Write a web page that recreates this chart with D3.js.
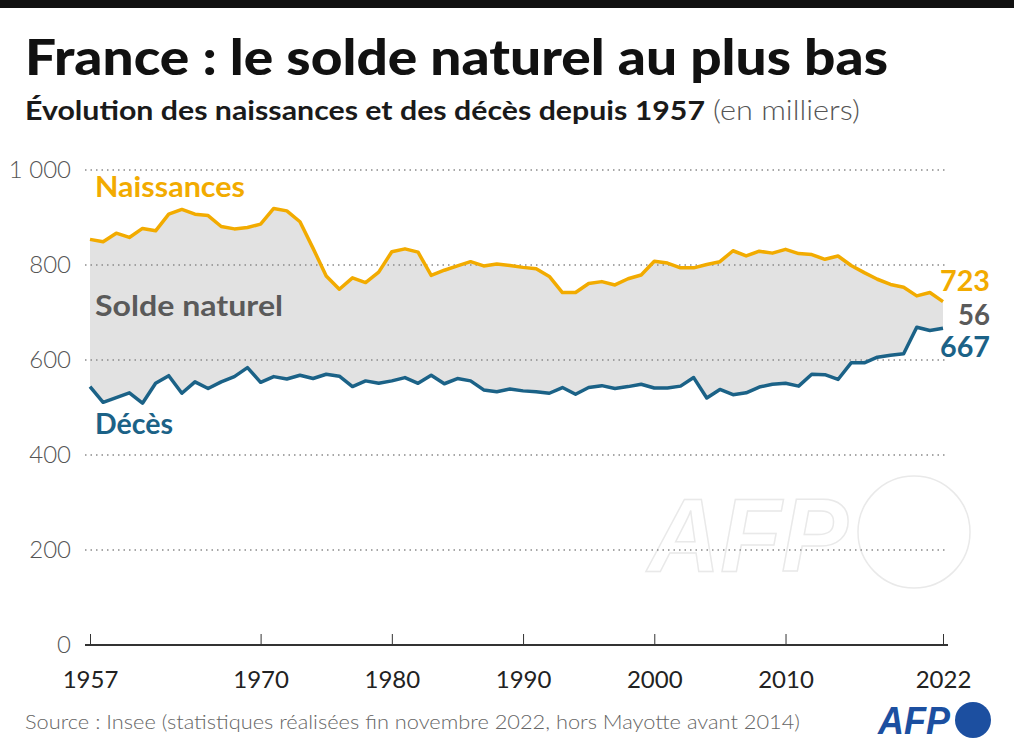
<!DOCTYPE html>
<html>
<head>
<meta charset="utf-8">
<script src="https://cdn.jsdelivr.net/npm/d3@7"></script>
<style>
  body { margin: 0; background: #fff; }
  svg { display: block; font-family: Lato, "Open Sans", sans-serif; }
</style>
</head>
<body>
<script>
'use strict';

// years 1957 -> 2022, values in thousands
const years = d3.range(1957, 2023);

const naissances = [
  854, 849, 867, 858, 877, 872, 907, 917, 907, 904,
  881, 876, 879, 886, 919, 914, 891, 835, 777, 749,
  773, 763, 785, 828, 834, 827, 778, 789, 798, 807,
  798, 802, 799, 795, 792, 776, 742, 742, 761, 765,
  758, 771, 779, 808, 804, 794, 794, 801, 807, 830,
  819, 829, 825, 833, 824, 822, 812, 819, 799, 784,
  770, 759, 753, 735, 742, 723
];

const deces = [
  544, 511, 521, 531, 509, 551, 567, 530, 554, 540,
  554, 565, 584, 553, 565, 560, 568, 561, 570, 566,
  544, 556, 551, 556, 563, 551, 568, 550, 561, 556,
  537, 533, 539, 535, 533, 530, 542, 528, 542, 546,
  540, 544, 549, 541, 541, 545, 563, 520, 538, 527,
  531, 543, 549, 551, 545, 570, 569, 559, 594, 594,
  606, 610, 613, 669, 662, 667
];

const yTicks = [0, 200, 400, 600, 800, 1000];
const yTickLabels = ["0", "200", "400", "600", "800", "1 000"];
const xTicks = [1957, 1970, 1980, 1990, 2000, 2010, 2022];

const orange = "#f2ab00";
const blue = "#1b6287";
const grey = "#5a5a5a";

const W = 1014, H = 755;
const svg = d3.select("body").append("svg")
  .attr("width", W)
  .attr("height", H);

// top black band
svg.append("rect")
  .attr("x", 0).attr("y", 0)
  .attr("width", W).attr("height", 8)
  .attr("fill", "#111");

// title + subtitle
svg.append("text")
  .attr("x", 25).attr("y", 75)
  .attr("font-size", 50)
  .attr("font-weight", 900)
  .attr("fill", "#111")
  .attr("textLength", 863)
  .attr("lengthAdjust", "spacingAndGlyphs")
  .text("France : le solde naturel au plus bas");

svg.append("text")
  .attr("x", 25).attr("y", 120)
  .attr("font-size", 27)
  .attr("font-weight", 700)
  .attr("fill", "#1a1a1a")
  .attr("textLength", 680)
  .attr("lengthAdjust", "spacingAndGlyphs")
  .text("Évolution des naissances et des décès depuis 1957");

svg.append("text")
  .attr("x", 713).attr("y", 120)
  .attr("font-size", 27)
  .attr("font-weight", 300)
  .attr("fill", "#555")
  .attr("textLength", 147)
  .attr("lengthAdjust", "spacingAndGlyphs")
  .text("(en milliers)");

// scales
const x = d3.scaleLinear().domain([1957, 2022]).range([90, 943]);
const y = d3.scaleLinear().domain([0, 1000]).range([645, 170]);

// AFP watermark (behind grid)
const wm = svg.append("g").attr("class", "watermark");
wm.append("text")
  .attr("x", 648).attr("y", 571)
  .attr("font-family", "Liberation Sans, Arial, sans-serif")
  .attr("font-size", 104)
  .attr("font-weight", 700)
  .attr("font-style", "italic")
  .attr("fill", "#fff")
  .attr("stroke", "#e9e9e9")
  .attr("stroke-width", 1.5)
  .attr("textLength", 200)
  .attr("lengthAdjust", "spacingAndGlyphs")
  .text("AFP");
wm.append("circle")
  .attr("cx", 914).attr("cy", 532).attr("r", 56)
  .attr("fill", "#fff")
  .attr("stroke", "#e9e9e9")
  .attr("stroke-width", 1.5);

// area between births and deaths
const area = d3.area()
  .x((d, i) => x(years[i]))
  .y0((d, i) => y(deces[i]))
  .y1((d) => y(d));

svg.append("path")
  .datum(naissances)
  .attr("fill", "#e2e2e2")
  .attr("d", area);

// dotted gridlines
svg.append("g")
  .selectAll("line")
  .data(yTicks.filter(d => d > 0))
  .join("line")
  .attr("x1", 85).attr("x2", 946)
  .attr("y1", d => y(d)).attr("y2", d => y(d))
  .attr("stroke", "#8a8a8a")
  .attr("stroke-width", 1.4)
  .attr("stroke-dasharray", "1.5,4");

// y axis labels
const yAxis = d3.axisLeft(y)
  .tickValues(yTicks)
  .tickSize(0)
  .tickPadding(0)
  .tickFormat((d, i) => yTickLabels[i]);

const gy = svg.append("g")
  .attr("transform", "translate(71,0)")
  .call(yAxis);
gy.select(".domain").remove();
gy.selectAll("text")
  .attr("font-family", "Lato, sans-serif")
  .attr("font-size", 24)
  .attr("font-weight", 300)
  .attr("fill", "#555");

// x axis at zero, ticks pointing up
const xAxis = d3.axisBottom(x)
  .tickValues(xTicks)
  .tickSize(-11)
  .tickPadding(26)
  .tickFormat(d3.format("d"));

const gx = svg.append("g")
  .attr("transform", "translate(0," + y(0) + ")")
  .call(xAxis);
gx.select(".domain").remove();
gx.selectAll(".tick line").attr("stroke", "#333").attr("stroke-width", 1);
gx.selectAll("text")
  .attr("font-family", "Lato, sans-serif")
  .attr("font-size", 24)
  .attr("font-weight", 400)
  .attr("fill", "#222");
gx.append("line")
  .attr("x1", 85).attr("x2", 948)
  .attr("stroke", "#333")
  .attr("stroke-width", 2);

// lines
const line = d3.line()
  .x((d, i) => x(years[i]))
  .y((d) => y(d));

svg.append("path")
  .datum(naissances)
  .attr("fill", "none")
  .attr("stroke", orange)
  .attr("stroke-width", 3.5)
  .attr("stroke-linejoin", "round")
  .attr("d", line);

svg.append("path")
  .datum(deces)
  .attr("fill", "none")
  .attr("stroke", blue)
  .attr("stroke-width", 3.5)
  .attr("stroke-linejoin", "round")
  .attr("d", line);

// series labels
function label(txt, xx, yy, color, size, len, anchor) {
  const t = svg.append("text")
    .attr("x", xx).attr("y", yy)
    .attr("font-size", size)
    .attr("font-weight", 700)
    .attr("fill", color)
    .attr("text-anchor", anchor || "start")
    .text(txt);
  if (len) t.attr("textLength", len).attr("lengthAdjust", "spacingAndGlyphs");
  return t;
}

label("Naissances", 95, 197, orange, 28, 150);
label("Solde naturel", 95, 316, grey, 28, 188);
label("Décès", 95, 434, blue, 28, 78);

const last = naissances.length - 1;
label(String(naissances[last]), 990, 291, orange, 28, 50, "end");
label(String(naissances[last] - deces[last]), 990, 325, grey, 28, 32, "end");
label(String(deces[last]), 990, 357, blue, 28, 50, "end");

// source
svg.append("text")
  .attr("x", 25).attr("y", 729)
  .attr("font-size", 20)
  .attr("font-weight", 300)
  .attr("fill", "#666")
  .attr("textLength", 775)
  .attr("lengthAdjust", "spacingAndGlyphs")
  .text("Source : Insee (statistiques réalisées fin novembre 2022, hors Mayotte avant 2014)");

// AFP logo
const logo = svg.append("g");
logo.append("text")
  .attr("x", 878).attr("y", 734)
  .attr("font-family", "Liberation Sans, Arial, sans-serif")
  .attr("font-size", 38)
  .attr("font-weight", 700)
  .attr("font-style", "italic")
  .attr("fill", "#1c4fa0")
  .attr("textLength", 72)
  .attr("lengthAdjust", "spacingAndGlyphs")
  .text("AFP");
logo.append("circle")
  .attr("cx", 973).attr("cy", 720).attr("r", 18)
  .attr("fill", "#1c4fa0");
</script>
</body>
</html>
